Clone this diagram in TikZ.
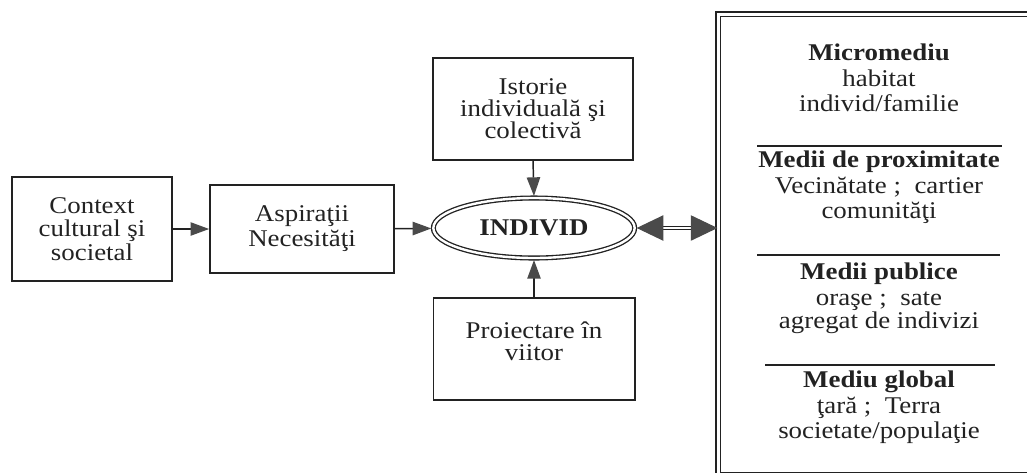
\documentclass[tikz,border=0pt]{standalone}
\usepackage{fontspec}
\setmainfont{Liberation Serif}[FakeStretch=1.12]
\usetikzlibrary{arrows.meta,shapes.geometric}
\definecolor{ink}{HTML}{222222}
\definecolor{headc}{HTML}{4A4A4A}
\begin{document}
\begin{tikzpicture}[x=0.75pt,y=-0.75pt,
  every node/.style={font=\fontsize{18}{17.5}\selectfont, text=ink},
  box/.style={draw=ink, line width=1.25pt, align=center, inner sep=0pt},
  arr/.style={draw=ink, line width=1.1pt, -{Triangle[length=14pt,width=10pt,color=headc]}},
  bigarr/.style={draw=ink, double, double distance=1.6pt, line width=0.8pt,
     {Triangle[length=20pt,width=19pt,color=headc]}-{Triangle[length=20pt,width=19pt,color=headc]}},
  ptxt/.style={anchor=base, inner sep=0pt},
  pbold/.style={ptxt, font=\fontsize{18}{17.5}\selectfont\bfseries},
  rule/.style={draw=ink, line width=0.8pt}]
\useasboundingbox (0,0) rectangle (1027,472);
\clip (0,0) rectangle (1027,472);

\node[box, minimum width=120pt, minimum height=78pt] (ctx) at (92,229) {Context\\cultural şi\\societal};
\node[box, minimum width=138pt, minimum height=66pt, font=\fontsize{18}{18.75}\selectfont] (asp) at (302,229) {Aspiraţii\\Necesităţi};
\node[ellipse, draw=ink, double, double distance=1.8pt, line width=1pt,
      minimum width=151pt, minimum height=45pt, inner sep=0pt,
      font=\fontsize{18}{17.5}\selectfont\bfseries] (ind) at (534,228) {INDIVID};
\node[box, minimum width=150pt, minimum height=76.5pt, font=\fontsize{18}{16.5}\selectfont] (ist) at (533,109) {Istorie\\individuală şi\\colectivă};
\node[box, minimum width=151pt, minimum height=76.5pt] (pro) at (534,349) {};
\node[align=center, inner sep=0pt, font=\fontsize{18}{16.5}\selectfont] (protxt) at (534,341) {Proiectare în\\viitor};

\node[draw=ink, double, double distance=2.6pt, line width=1.1pt, anchor=north west,
      minimum width=245.6pt, minimum height=345.4pt, inner sep=0pt] (panel) at (717.5,13.5) {};

\draw[arr] (ctx) -- (asp);
\draw[arr, shorten >=1pt] (asp) -- (ind);
\draw[arr, shorten >=1pt] (ist.south) -- (ind.north);
\draw[arr, shorten >=1pt] (pro.north) -- (ind.south);
\draw[bigarr, shorten <=1pt] (ind.east) -- (ind.east -| panel.west);

\node[pbold] (b1a) at (879,60) {Micromediu};
\node[ptxt] (b1b) at (879,86) {habitat};
\node[ptxt] (b1c) at (879,111) {individ/familie};
\draw[rule] (757,146) -- (1002,146);
\node[pbold] (b2a) at (879,167) {Medii de proximitate};
\node[ptxt] (b2b) at (879,193) {Vecinătate ;\ \ cartier};
\node[ptxt] (b2c) at (879,218) {comunităţi};
\draw[rule] (757,255) -- (1000,255);
\node[pbold] (b3a) at (879,279) {Medii publice};
\node[ptxt] (b3b) at (879,305) {oraşe ;\ \ sate};
\node[ptxt] (b3c) at (879,328) {agregat de indivizi};
\draw[rule] (765,365) -- (995,365);
\node[pbold] (b4a) at (879,387) {Mediu global};
\node[ptxt] (b4b) at (879,413) {ţară ;\ \ Terra};
\node[ptxt] (b4c) at (879,438) {societate/populaţie};
\end{tikzpicture}
\end{document}
